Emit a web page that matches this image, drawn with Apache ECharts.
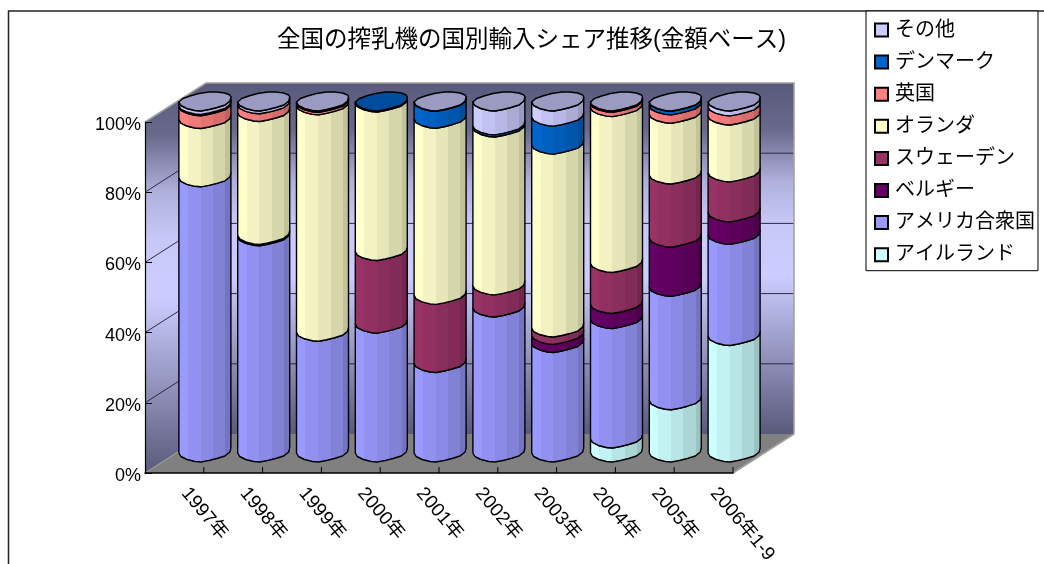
<!DOCTYPE html>
<html><head><meta charset="utf-8">
<style>html,body{margin:0;padding:0;background:#fff}#c{width:1044px;height:564px}</style>
<script src="https://cdn.jsdelivr.net/npm/echarts@6/dist/echarts.min.js"></script>
</head><body><div id="c"></div>
<script>
const years=['1997年','1998年','1999年','2000年','2001年','2002年','2003年','2004年','2005年','2006年1-9'];
const ireland=[0,0,0,0,0,0,0,4,14.9,33.2];
const usa=[78.4,61.6,34.4,36.7,25.5,41.3,31.2,34,32.3,28.8];
const belgium=[0,0.4,0,0,0,0,2.3,4.3,14,6.4];
const sweden=[0,0,0,20.7,19.4,6.3,2.1,11.7,18,11.4];
const netherlands=[16.6,35,64.5,42.3,50.2,45,52.1,44.4,17.3,16.2];
const uk=[3.6,2.2,0.7,0,0,0,0,1.2,2.4,2.6];
const denmark=[0.4,0,0.2,0.3,4.8,0.6,8,0,1.0,0];
const other=[1,0.8,0.2,0,0.1,6.8,4.3,0.4,0.1,1.4];

const names=['アイルランド','アメリカ合衆国','ベルギー','スウェーデン','オランダ','英国','デンマーク','その他'];
const values=[ireland,usa,belgium,sweden,netherlands,uk,denmark,other];
const colors=['#ccffff','#9999ff','#660066','#993366','#ffffcc','#ff8080','#0066cc','#ccccff'];
const legendOrder=names.slice().reverse();
const pct=['0%','20%','40%','60%','80%','100%'];
const FONT='"Liberation Sans","Noto Sans CJK JP",sans-serif';
const DX=61,DY=-39,LIFT=1;

const front=[[-26,.5],[-24,4],[-18,7],[-10,9],[-4,9.5],[4,8],[12,6],[20,3.5],[25,-.5],[26,-4.5]];
const back=[[25,-6.5],[20,-8.5],[12,-9.5],[4,-9.5],[-6,-8],[-15,-5.5],[-22,-3]];
const facets=[[0,1],[.18,.95],[.42,.9],[.65,.84],[.88,.76]];
const shade=(hex,k)=>{const n=parseInt(hex.slice(1),16);
  const c=[n>>16,(n>>8)&255,n&255].map(v=>Math.round(v*k));return `rgb(${c.join(',')})`;};
function stripes(hex){const s=[];facets.forEach((f,i)=>{
  const end=i+1<facets.length?facets[i+1][0]:1;
  s.push({offset:f[0],color:shade(hex,f[1])});s.push({offset:end,color:shade(hex,f[1])});});
  return {type:'linear',x:0,y:0,x2:1,y2:0,colorStops:s};}
const topIndex=i=>{for(let s=values.length-1;s>=0;s--)if(values[s][i]>0)return s;return 0;};

function segment(sIdx){return function(params,api){
  const i=api.value(0);
  const v=values[sIdx][i];
  if(!v)return {type:'group',children:[]};
  let base=0;for(let s=0;s<sIdx;s++)base+=values[s][i];
  const a=api.coord([i,base]),b=api.coord([i,base+v]);
  const cx=a[0]+DX/2,y0=a[1]+DY/2-LIFT,y1=b[1]+DY/2-LIFT;
  const pts=front.map(p=>[cx+p[0],y0+p[1]]).concat(front.slice().reverse().map(p=>[cx+p[0],y1+p[1]]));
  const kids=[{type:'polygon',shape:{points:pts},
    style:{fill:stripes(colors[sIdx]),stroke:'#000',lineWidth:1.4,lineJoin:'round'}}];
  if(topIndex(i)===sIdx){
    const cap=front.concat(back).map(p=>[cx+p[0],y1+p[1]]);
    kids.push({type:'polygon',shape:{points:cap},
      style:{fill:shade(colors[sIdx],.76),stroke:'#000',lineWidth:1.4,lineJoin:'round'}});
  }
  return {type:'group',children:kids};
};}

function walls(params,api){
  const p0=api.coord([0,0]),size=api.size([1,0])[0];
  const L=p0[0]-size/2,R=L+size*years.length,B=p0[1],T=api.coord([0,100])[1];
  const wallFill={type:'linear',x:0,y:0,x2:0,y2:1,colorStops:[
    {offset:0,color:'#5a5a7c'},{offset:.13,color:'#68688c'},{offset:.28,color:'#b0b0dc'},{offset:.4,color:'#c8c8f8'},{offset:.55,color:'#ccccff'},{offset:1,color:'#5a5a7c'}]};
  const kids=[
   {type:'polygon',shape:{points:[[L,T],[L+DX,T+DY],[L+DX,B+DY],[L,B]]},style:{fill:wallFill}},
   {type:'polygon',shape:{points:[[L+DX,T+DY],[R+DX,T+DY],[R+DX,B+DY],[L+DX,B+DY]]},style:{fill:wallFill}},
   {type:'polygon',shape:{points:[[L,B],[L+DX,B+DY],[R+DX,B+DY],[R,B]]},style:{fill:'#808080'}}
  ];
  [20,40,60,80].forEach(v=>{const y=api.coord([0,v])[1];
    kids.push({type:'polyline',shape:{points:[[L,y],[L+DX,y+DY],[R+DX,y+DY]]},style:{fill:null,stroke:'#2a2a44',lineWidth:1}});});
  kids.push({type:'polyline',shape:{points:[[L,T],[L+DX,T+DY],[R+DX,T+DY],[R+DX,B+DY],[R,B]]},style:{fill:null,stroke:'#a0a0a0',lineWidth:1.5}});
  kids.push({type:'line',shape:{x1:L,y1:B,x2:L+DX,y2:B+DY},style:{stroke:'#a0a0a0',lineWidth:1}});
  years.forEach((y,i)=>{const x=L+size*(i+1);
    kids.push({type:'line',shape:{x1:x,y1:B,x2:x,y2:B-6},style:{stroke:'#000',lineWidth:1}});});
  return {type:'group',children:kids};
}

const series=[{type:'custom',name:'_walls',silent:true,z:1,clip:false,renderItem:walls,
  encode:{x:0,y:1},data:[[0,0]]}];
names.forEach((n,s)=>series.push({type:'custom',name:n,z:2+s,clip:false,renderItem:segment(s),
  itemStyle:{color:colors[s],borderColor:'#000',borderWidth:1.4},
  encode:{x:0,y:1},data:years.map((y,i)=>[i,values[s][i]])}));

const chart=echarts.init(document.getElementById('c'),null,{renderer:'canvas'});
chart.setOption({
  animation:false,backgroundColor:'#fff',textStyle:{fontFamily:FONT},
  title:{text:'全国の搾乳機の国別輸入シェア推移(金額ベース)',left:272,top:24,
    textStyle:{fontFamily:FONT,fontSize:23.5,fontWeight:'normal',color:'#000'}},
  legend:{data:legendOrder,orient:'vertical',left:866,top:11,
    padding:[9,3,6,8],itemGap:12.1,itemWidth:13,itemHeight:13,icon:'rect',
    selectedMode:false,backgroundColor:'#fff',borderColor:'#000',borderWidth:1,
    textStyle:{fontFamily:FONT,fontSize:20,color:'#000',padding:[0,0,0,2]}},
  grid:{left:145,top:122,width:588,height:351,containLabel:false,outerBoundsMode:'none'},
  xAxis:{type:'category',data:years,boundaryGap:true,z:20,
    axisLine:{lineStyle:{color:'#000',width:1.5}},
    axisTick:{show:false},
    axisLabel:{rotate:-50,interval:0,margin:5,fontSize:19,color:'#000',fontFamily:FONT,hideOverlap:false,padding:[0,0,32,16]}},
  yAxis:{type:'value',min:0,max:100,interval:20,z:20,
    axisLine:{show:true,lineStyle:{color:'#000',width:1.2}},
    axisTick:{show:true,inside:true,length:7,lineStyle:{color:'#000'}},
    splitLine:{show:false},
    axisLabel:{margin:4,fontSize:18,color:'#000',fontFamily:FONT,verticalAlign:'top',lineHeight:6,formatter:v=>pct[v/20]}},
  series:series,
  graphic:[{type:'polyline',z:0,silent:true,shape:{points:[[8.5,564],[8.5,11],[1044,11]]},style:{fill:null,stroke:'#222',lineWidth:1.5}}]
});
</script></body></html>
